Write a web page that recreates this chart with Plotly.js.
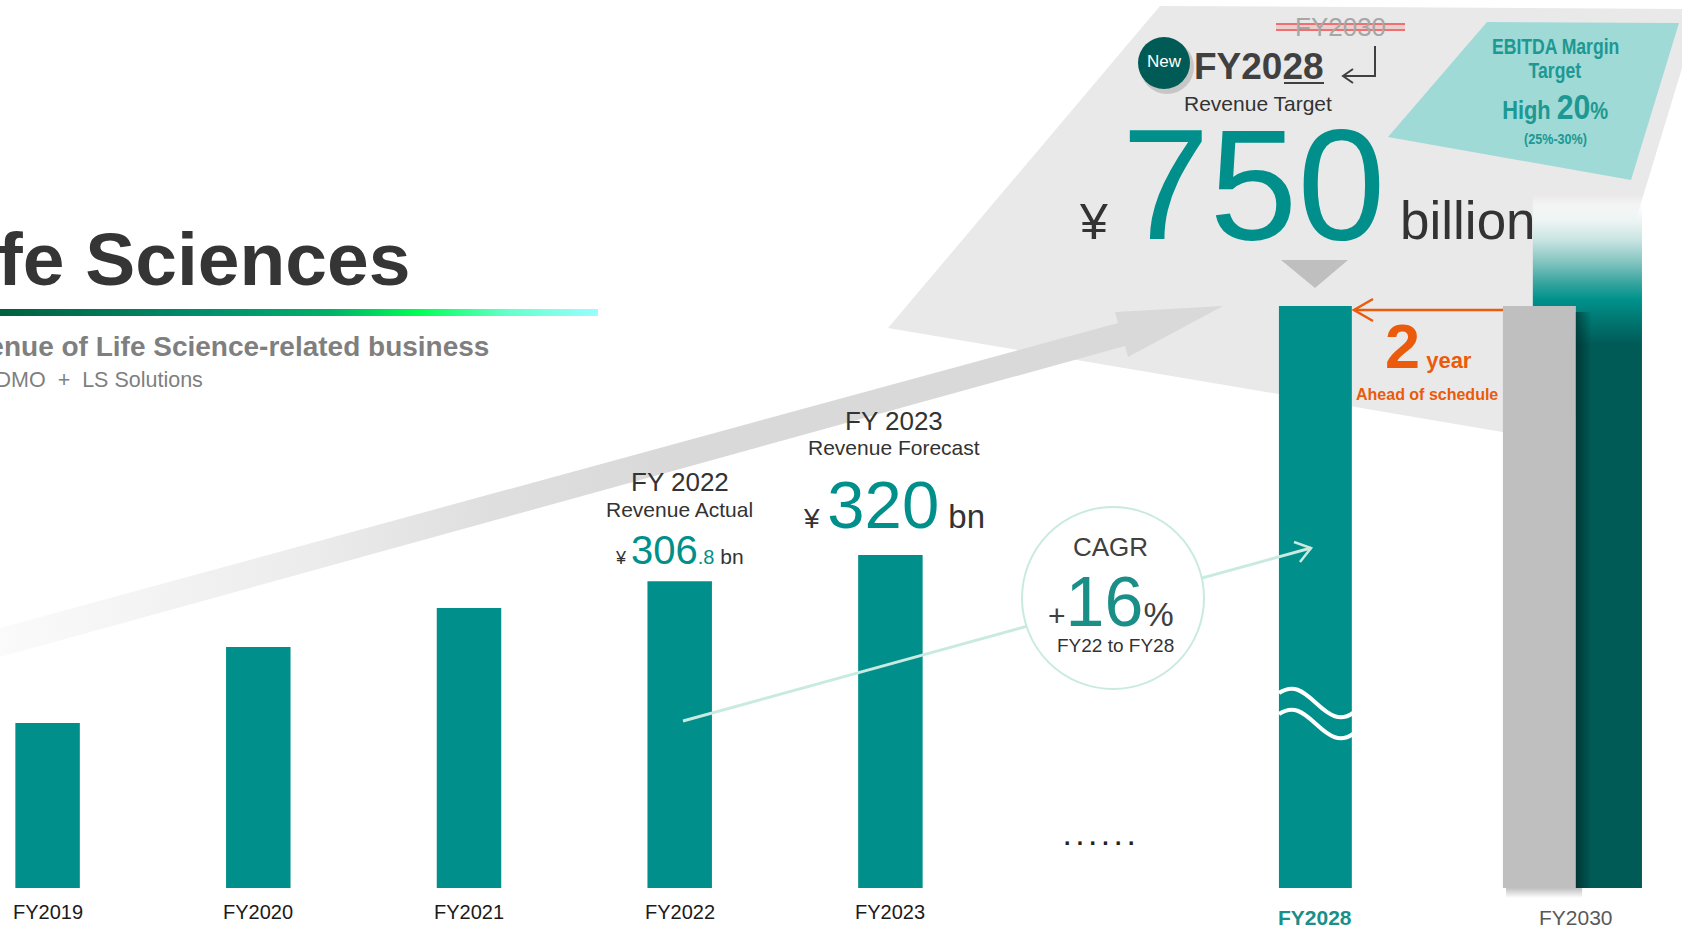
<!DOCTYPE html>
<html><head><meta charset="utf-8">
<script src="https://cdn.plot.ly/plotly-3.0.1.min.js"></script>
<style>html,body{margin:0;padding:0;background:#fff;overflow:hidden}#chart{width:1682px;height:927px}</style>
</head><body><div id="chart"></div>
<script>
// ---------------- DATA ----------------
const categories = ["FY2019","FY2020","FY2021","FY2022","FY2023","……","FY2028","FY2030"];
const actualYears = ["FY2019","FY2020","FY2021","FY2022","FY2023"];
const actualRevenueBn = [165, 241, 280, 306.8, 333];
const targetYear = ["FY2028"];
const targetRevenueBn = [750];
const previousTargetYear = ["FY2030"];
const previousTargetRevenueBn = [750];
const fy2022Text = ["FY 2022", "Revenue Actual", "306", ".8"];
const fy2023Text = ["FY 2023", "Revenue Forecast", "320"];
const targetText = ["FY2030", "FY2028", "Revenue Target", "750", "billion"];
const ebitdaText = ["EBITDA Margin", "Target", "High", "20", "(25%-30%)"];
const cagrText = ["CAGR", "16", "FY22 to FY28"];
const aheadText = ["2", "year", "Ahead of schedule"];
const titleText = ["Life Sciences", "Revenue of Life Science-related business", "CDMO\u00a0\u00a0+\u00a0\u00a0LS Solutions"];

// ---------------- HELPERS ----------------
const W = 1682, H = 927;
const PX = x => x / W, PY = y => 1 - y / H;
const TEAL = '#008F8A', DARK = '#333333', ORANGE = '#EA5B0C';
const FONT = 'Liberation Sans, Arial, sans-serif';
const idx = c => categories.indexOf(c);
// broken axis: values above BREAK are compressed (bar carries a break symbol)
const BREAK = 400, COMPRESS = 0.52;
const breakY = v => v <= BREAK ? v : BREAK + (v - BREAK) * COMPRESS;
const GLOW = 111; // decorative gradient extension on the FY2030 backdrop bar

const iT = idx(targetYear[0]);
const iP = idx(previousTargetYear[0]);
const greyOff = -0.093, barW2 = 0.346;
const greyTop = breakY(previousTargetRevenueBn[0]);
const greyRight = iP + greyOff + barW2;
const darkLeft = iP + 0.049, darkRight = iP + 0.567;
const darkTop = greyTop + GLOW;

const traces = [
  { type:'bar', x: actualYears.map(idx), y: actualRevenueBn, width: 0.306,
    marker:{color:TEAL, line:{width:0}}, hoverinfo:'skip' },
  { type:'bar', x: targetYear.map(idx), y: targetRevenueBn.map(breakY), width: barW2, offset: -0.156,
    marker:{color:TEAL, line:{width:0}}, hoverinfo:'skip' },
  { type:'bar', x: previousTargetYear.map(idx), y: previousTargetRevenueBn.map(breakY), width: barW2, offset: greyOff,
    marker:{color:'#BFBFBF', line:{width:0}}, hoverinfo:'skip' },
  // dark backdrop bar for FY2030 (part not hidden by the grey bar)
  { type:'scatter', mode:'lines', line:{width:0}, hoverinfo:'skip', fill:'toself',
    x:[darkLeft, darkRight, darkRight, greyRight, greyRight, darkLeft, darkLeft],
    y:[darkTop, darkTop, 0, 0, greyTop, greyTop, darkTop],
    fillgradient:{type:'vertical', start:0, stop:darkTop, colorscale:[
      [0,'rgb(0,90,86)'],[0.784,'rgb(0,90,86)'],[0.815,'rgb(0,115,110)'],[0.85,'rgb(0,146,140)'],
      [0.875,'rgb(60,166,161)'],[0.905,'rgb(135,198,194)'],[0.935,'rgb(200,228,226)'],
      [0.962,'rgb(236,244,243)'],[0.985,'rgba(250,252,252,0.6)'],[1,'rgba(255,255,255,0)']]} },
  // shadow to the right of grey bar
  { type:'scatter', mode:'lines', line:{width:0}, hoverinfo:'skip', fill:'toself',
    x:[greyRight, greyRight+0.075, greyRight+0.075, greyRight, greyRight],
    y:[0, 0, greyTop-6, greyTop-6, 0],
    fillgradient:{type:'horizontal', start:greyRight, stop:greyRight+0.075,
      colorscale:[[0,'rgba(0,20,20,0.5)'],[1,'rgba(0,20,20,0)']]} },
  // shadow below grey bar
  { type:'scatter', mode:'lines', line:{width:0}, hoverinfo:'skip', fill:'toself',
    x:[iP+greyOff+0.015, greyRight+0.03, greyRight+0.03, iP+greyOff+0.015, iP+greyOff+0.015],
    y:[-10, -10, 0, 0, -10],
    fillgradient:{type:'vertical', start:-10, stop:0,
      colorscale:[[0,'rgba(0,0,0,0)'],[1,'rgba(0,0,0,0.25)']]} },
  // big grey growth arrow (pixel overlay axes)
  { type:'scatter', mode:'lines', line:{width:0}, hoverinfo:'skip', fill:'toself', xaxis:'x2', yaxis:'y2',
    x:[0, 1118, 1115, 1223, 1128, 1125, 0, 0],
    y:[628, 323, 312, 306, 357, 346, 657, 628],
    fillgradient:{type:'horizontal', start:0, stop:1223, colorscale:[
      [0,'rgba(217,217,217,0.12)'],[0.25,'rgba(217,217,217,0.5)'],[0.4,'rgba(217,217,217,0.85)'],
      [0.55,'rgb(217,217,217)'],[1,'rgb(217,217,217)']]} },
  // gradient rule under title
  { type:'scatter', mode:'lines', line:{width:0}, hoverinfo:'skip', fill:'toself', xaxis:'x2', yaxis:'y2',
    x:[0, 598, 598, 0, 0], y:[309, 309, 316, 316, 309],
    fillgradient:{type:'horizontal', start:0, stop:598, colorscale:[
      [0,'#00603f'],[0.35,'#008f6e'],[0.55,'#00b068'],[0.7,'#00ff55'],[0.85,'#66ffcc'],[1,'#99ffff']]} }
];

const P = (pts) => 'M ' + pts.map(p => PX(p[0]) + ',' + PY(p[1])).join(' L ');
const shapes = [
  { type:'path', xref:'paper', yref:'paper', layer:'below', path: P([[1160,6],[1700,9],[1568,443],[888,328]]) + ' Z',
    fillcolor:'#E9E9E9', line:{width:0} },
  { type:'path', xref:'paper', yref:'paper', layer:'below', path: P([[1487,22],[1679,23],[1631,180],[1388,137]]) + ' Z',
    fillcolor:'#9FDAD7', line:{width:0} },
  { type:'path', xref:'paper', yref:'paper', layer:'below', path: P([[1281,260],[1348,260],[1315,288]]) + ' Z',
    fillcolor:'#BFBFBF', line:{width:0} },
  { type:'rect', xref:'paper', yref:'paper', x0:PX(1276), x1:PX(1405), y0:PY(24), y1:PY(30), fillcolor:'rgba(240,160,160,0.35)', line:{width:0} },
  { type:'line', xref:'paper', yref:'paper', x0:PX(1276), x1:PX(1405), y0:PY(24), y1:PY(24), line:{color:'#EE7070', width:2} },
  { type:'line', xref:'paper', yref:'paper', x0:PX(1276), x1:PX(1405), y0:PY(30), y1:PY(30), line:{color:'#EE7070', width:2} },
  { type:'circle', xref:'paper', yref:'paper', x0:PX(1140), x1:PX(1194), y0:PY(40), y1:PY(94), fillcolor:'rgba(0,0,0,0.15)', line:{width:0} },
  { type:'circle', xref:'paper', yref:'paper', x0:PX(1138), x1:PX(1190), y0:PY(37), y1:PY(89), fillcolor:'#005A55', line:{width:0} },
  { type:'line', xref:'paper', yref:'paper', x0:PX(1284), x1:PX(1324), y0:PY(83), y1:PY(83), line:{color:'#404040', width:2} },
  { type:'path', xref:'paper', yref:'paper', path: P([[1375,46],[1375,76],[1343,76]]), line:{color:'#404040', width:2} },
  { type:'path', xref:'paper', yref:'paper', path: P([[1353,69],[1343,76],[1353,83]]), line:{color:'#404040', width:2} },
  { type:'line', xref:'paper', yref:'paper', x0:PX(1354), x1:PX(1503), y0:PY(310), y1:PY(310), line:{color:ORANGE, width:2.5} },
  { type:'path', xref:'paper', yref:'paper', path: P([[1373,299],[1354,310],[1373,321]]), line:{color:ORANGE, width:2.5} },
  { type:'line', xref:'paper', yref:'paper', x0:PX(683), x1:PX(1311), y0:PY(721), y1:PY(548), line:{color:'#C8EAE0', width:3} },
  { type:'path', xref:'paper', yref:'paper', path: P([[1294,542],[1311,548],[1300,562]]), line:{color:'#C8EAE0', width:2.5} },
  { type:'circle', xref:'paper', yref:'paper', x0:PX(1022), x1:PX(1204), y0:PY(507), y1:PY(689), fillcolor:'#FFFFFF', line:{color:'#C8EAE0', width:2} },
  { type:'path', xref:'paper', yref:'paper', path:
      `M ${PX(1279)},${PY(693)} C ${PX(1293)},${PY(684)} ${PX(1302)},${PY(690)} ${PX(1316)},${PY(703)} S ${PX(1340)},${PY(722)} ${PX(1353)},${PY(713)}`,
    line:{color:'#FFFFFF', width:4} },
  { type:'path', xref:'paper', yref:'paper', path:
      `M ${PX(1279)},${PY(714)} C ${PX(1293)},${PY(705)} ${PX(1302)},${PY(711)} ${PX(1316)},${PY(724)} S ${PX(1340)},${PY(743)} ${PX(1353)},${PY(734)}`,
    line:{color:'#FFFFFF', width:4} }
];

const ann = [];
const narrowIdx = [];
const A = (text, x, y, o = {}) => ann.push(Object.assign({
  text, x: PX(x), y: PY(y), xref:'paper', yref:'paper', showarrow:false,
  xanchor:'center', yanchor:'middle',
  font:{family:FONT, size:20, color:DARK}
}, o));
const S = (size, color, t) => `<span style="font-size:${size}px${color ? ';color:' + color : ''}">${t}</span>`;

// Titles
A('<b>' + titleText[0] + '</b>', 412, 259, {xanchor:'right', font:{family:FONT, size:75, color:'#353535'}});
A('<b>' + titleText[1] + '</b>', 491, 347, {xanchor:'right', font:{family:FONT, size:28, color:'#7F7F7F'}});
A(titleText[2], 205, 380, {xanchor:'right', font:{family:FONT, size:21.5, color:'#7F7F7F'}});

// x labels
actualYears.forEach(c => ann.push({ text:c, x:idx(c), xref:'x', y:PY(911.5), yref:'paper', showarrow:false,
  xanchor:'center', yanchor:'middle', font:{family:FONT, size:20, color:'#1A1A1A'} }));
ann.push({ text:'<b>' + targetYear[0] + '</b>', x:iT, xref:'x', xshift:3, y:PY(917), yref:'paper', showarrow:false,
  xanchor:'center', yanchor:'middle', font:{family:FONT, size:21, color:'#1A8F88'} });
ann.push({ text:previousTargetYear[0], x:iP, xref:'x', xshift:53, y:PY(917), yref:'paper', showarrow:false,
  xanchor:'center', yanchor:'middle', font:{family:FONT, size:21, color:'#595959'} });
ann.push({ text:'<b>.\u00a0.\u00a0.\u00a0.\u00a0.\u00a0.</b>', x:idx('……'), xref:'x', xshift:-2, y:PY(837), yref:'paper', showarrow:false,
  xanchor:'center', yanchor:'middle', font:{family:FONT, size:23, color:'#222'} });

// FY2022 / FY2023 callouts
const bx = (c, text, y, o) => ann.push(Object.assign({ text, x:idx(c), xref:'x', y:PY(y), yref:'paper', showarrow:false,
  xanchor:'center', yanchor:'middle', font:{family:FONT, size:21, color:DARK} }, o));
bx('FY2022', fy2022Text[0], 482, {font:{family:FONT, size:26, color:DARK}});
bx('FY2022', fy2022Text[1], 509, {});
bx('FY2022', S(18,null,'¥ ') + S(40,TEAL,fy2022Text[2]) + S(20,TEAL,fy2022Text[3]) + S(21,null,' bn'), 550, {});
bx('FY2023', fy2023Text[0], 421, {xshift:4, font:{family:FONT, size:26, color:DARK}});
bx('FY2023', fy2023Text[1], 448, {xshift:4});
bx('FY2023', S(28,null,'¥ ') + S(67,TEAL,fy2023Text[2]) + S(33,null,' bn'), 504, {xshift:4});

// Target block
A('New', 1164, 62, {font:{family:FONT, size:17, color:'#FFFFFF'}});
A(targetText[0], 1340, 27, {font:{family:FONT, size:26, color:'#A6A6A6'}});
A('<b>' + targetText[1] + '</b>', 1258.5, 66, {font:{family:FONT, size:37, color:'#404040'}});
A(targetText[2], 1258, 103, {font:{family:FONT, size:21, color:DARK}});
A(S(50,null,'¥ ') + S(158,TEAL,targetText[3]) + S(53,null,' ' + targetText[4]), 1077, 184, {xanchor:'left', font:{family:FONT, size:53, color:DARK}});

// EBITDA (condensed via horizontal scaling after render)
const EB = '#1D9892';
narrowIdx.push([ann.length, 0.8]);
A('<b>' + ebitdaText[0] + '</b>', 1555, 46, {font:{family:FONT, size:22, color:EB}});
narrowIdx.push([ann.length, 0.8]);
A('<b>' + ebitdaText[1] + '</b>', 1555, 71, {font:{family:FONT, size:22, color:EB}});
narrowIdx.push([ann.length, 0.84]);
A('<b>' + S(26,null,ebitdaText[2] + ' ') + S(36,null,ebitdaText[3]) + S(24,null,'%') + '</b>', 1555, 106, {font:{family:FONT, size:26, color:EB}});
narrowIdx.push([ann.length, 0.84]);
A('<b>' + ebitdaText[4] + '</b>', 1555, 138, {font:{family:FONT, size:15, color:EB}});

// CAGR
A(cagrText[0], 1110, 547, {font:{family:FONT, size:26, color:'#404040'}});
A(S(30,null,'+') + S(70,'#1A8F88',cagrText[1]) + S(34,null,'%'), 1111, 602, {font:{family:FONT, size:30, color:'#404040'}});
A(cagrText[2], 1115, 645, {font:{family:FONT, size:19, color:DARK}});

// Ahead of schedule
A('<b>' + S(63,null,aheadText[0]) + S(22,null,' ' + aheadText[1]) + '</b>', 1428, 346, {font:{family:FONT, size:22, color:ORANGE}});
A('<b>' + aheadText[2] + '</b>', 1427, 394, {font:{family:FONT, size:16, color:ORANGE}});

const layout = {
  width: W, height: H, margin:{l:0, r:0, t:0, b:0},
  paper_bgcolor:'#FFFFFF', plot_bgcolor:'rgba(0,0,0,0)',
  showlegend:false, barmode:'overlay',
  xaxis:{range:[-0.2259, 7.757], visible:false, fixedrange:true},
  yaxis:{range:[-39, 888], visible:false, fixedrange:true},
  xaxis2:{range:[0, W], overlaying:'x', anchor:'y2', visible:false, fixedrange:true},
  yaxis2:{range:[H, 0], overlaying:'y', anchor:'x2', visible:false, fixedrange:true},
  shapes, annotations: ann,
  font:{family:FONT}
};
Plotly.newPlot('chart', traces, layout, {staticPlot:true, displayModeBar:false}).then(gd => {
  narrowIdx.forEach(([i, s]) => {
    const g = gd.querySelector('g.annotation[data-index="' + i + '"] text');
    if (g) {
      g.style.transformBox = 'fill-box';
      g.style.transformOrigin = 'center';
      g.style.transform = 'scaleX(' + s + ')';
    }
  });
});
</script>
</body></html>
